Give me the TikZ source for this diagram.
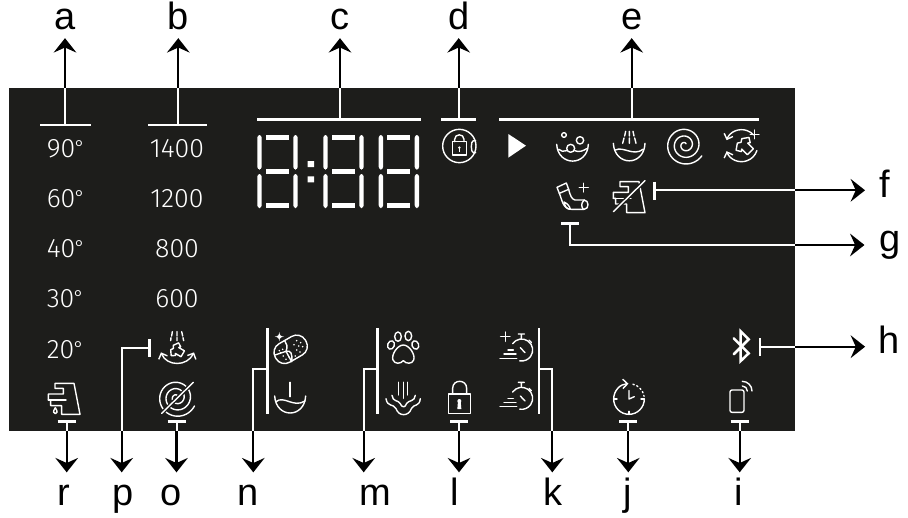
\documentclass[tikz,border=0pt]{standalone}
\usepackage{fontspec}
\setmainfont{Liberation Sans}
\newfontfamily\digfont{Fira Sans Light}
\usetikzlibrary{arrows.meta}
\definecolor{panel}{HTML}{1D1D1B}
\newcommand{\degsign}{\kern-.5pt{\fontsize{15}{15}\selectfont\raisebox{2pt}{°}}}
\tikzset{
  zoomed/.style 2 args={shift={(#1,#2)},x=.25pt,y=-.25pt},
  icon/.style={draw=white,line width=1.05pt,line cap=round,line join=round},
  chev/.tip={Straight Barb[length=3.5pt,width=7pt]},
  wline/.style={draw=white,line width=1.5pt},
  bline/.style={draw=black,line width=1.6pt,-{Stealth[length=10.8pt,width=17pt,inset=3.8pt]}},
  tbar/.style={draw=white,line width=1.9pt},
  brace/.style={draw=white,line width=1.8pt},
  lbl/.style={text=black,font=\fontsize{28.5}{28.5}\selectfont,inner sep=0pt,anchor=base,text height=20.25pt,text depth=6pt},
  toplbl/.style={lbl,outer ysep=.5pt},
  botlbl/.style={lbl,outer ysep=4.25pt},
  sidelbl/.style={lbl,outer xsep=#1},
  dig/.style={text=white,font=\digfont\fontsize{20}{20}\selectfont,inner sep=0pt},
  segment/.style={fill=white,draw=none},
  sevenseg/.pic={
    \fill[segment] (8.7,0) rectangle (31.7,5);
    \fill[segment] (8.7,34) rectangle (31.7,38.7);
    \fill[segment] (8.7,68) rectangle (31.7,73);
    \fill[segment,rounded corners=2pt] (0,34.5) -- (0,0) -- (4.4,0) -- (4.4,34.5) -- cycle;
    \fill[segment,rounded corners=2pt] (0,39) -- (0,73) -- (4.4,73) -- (4.4,39) -- cycle;
    \fill[segment,rounded corners=2pt] (36,34.5) -- (36,0) -- (40.4,0) -- (40.4,34.5) -- cycle;
    \fill[segment,rounded corners=2pt] (36,39) -- (36,73) -- (40.4,73) -- (40.4,39) -- cycle;
  }
}
\newcommand{\TapShape}{%
  \draw[icon] (75,190) -- (132,190) -- (150,283) -- (95,283) -- (95,257) -- (62,257) -- (62,240) -- (55,240) -- (55,222) -- (100,222) -- (100,205) -- (75,205) -- cycle;
  \draw[icon] (55,240) -- (108,240);
}
\newcommand{\ShirtShape}{%
  \draw[icon] (-9,-22) -- (0,-16) -- (9,-22) -- (26,-10) -- (18,3) -- (12,-1) -- (12,22) -- (-12,22) -- (-12,-1) -- (-18,3) -- (-26,-10) -- cycle;
}
\newcommand{\TimerShape}{%
  \draw[icon] (95,90) ++(215:33) arc[start angle=215,end angle=460,radius=33];
  \draw[icon] (85,42) -- (103,42) (94,42) -- (94,56) (117,60) -- (124,67);
  \draw[icon] (91,83) -- (105,98);
  \draw[icon] (30,115) -- (80,115) (42,102) -- (78,102) (54,90) -- (70,90);
}
\newcommand{\upconn}[5]{% name, stem x, bar x1, bar x2, bar y
  \coordinate (#1S) at (#2,#5);
  \coordinate (#1P) at (#2,88);
  \coordinate (#1L) at (#3,#5);
  \coordinate (#1R) at (#4,#5);
  \draw[tbar] (#1L) -- (#1R);
  \draw[wline] (#1S) -- (#1P);
  \draw[bline] (#1P) -- (#1P |- #1.south);
}
\newcommand{\downconn}[4]{% name, stem x, half width, bar y
  \coordinate (#1S) at (#2,#4);
  \coordinate (#1P) at (#2,431);
  \coordinate (#1L) at (#2-#3,#4);
  \coordinate (#1R) at (#2+#3,#4);
  \draw[tbar] (#1L) -- (#1R);
  \draw[wline] (#1S) -- (#1P);
  \draw[bline] (#1P) -- (#1P |- #1.north);
}
\newcommand{\elbow}[6]{% name, bar x, bar y1, bar y2, branch y, drop x
  \coordinate (#1T) at (#2,#3);
  \coordinate (#1U) at (#2,#4);
  \coordinate (#1B) at (#2,#5);
  \coordinate (#1C) at (#6,#5);
  \coordinate (#1P) at (#6,431);
  \draw[brace] (#1T) -- (#1U);
  \draw[wline] (#1B) -- (#1C) -- (#1P);
  \draw[bline] (#1P) -- (#1P |- #1.north);
}
\begin{document}
\begin{tikzpicture}[x=.75pt,y=-.75pt]
\useasboundingbox (0,0) rectangle (908,518);
\fill[panel] (9,88) rectangle (795,431);

% labels
\node[toplbl] (a) at (65.3,29.5) {a};
\node[toplbl] (b) at (178,29.5) {b};
\node[toplbl] (c) at (340,29.5) {c};
\node[toplbl] (d) at (459,29.5) {d};
\node[toplbl] (e) at (632,29.5) {e};
\node[sidelbl=11pt] (f) at (885,197.7) {f};
\node[sidelbl=11pt] (g) at (889.7,251) {g};
\node[sidelbl=10pt] (h) at (889,353.3) {h};
\node[botlbl] (r) at (64,505) {r};
\node[botlbl] (p) at (123.3,505) {p};
\node[botlbl] (o) at (171,505) {o};
\node[botlbl] (n) at (248.3,505) {n};
\node[botlbl] (m) at (375,505) {m};
\node[botlbl] (l) at (455,505) {l};
\node[botlbl] (k) at (553,505) {k};
\node[botlbl] (j) at (628,505) {j};
\node[botlbl] (i) at (739,505) {i};

% temperature and speed values
\node[dig,anchor=base west] (t90) at (46.5,157) {90\degsign};
\node[dig,anchor=base west] (t60) at (46.5,207) {60\degsign};
\node[dig,anchor=base west] (t40) at (46.5,257.5) {40\degsign};
\node[dig,anchor=base west] (t30) at (46.5,307.5) {30\degsign};
\node[dig,anchor=base west] (t20) at (46.5,358) {20\degsign};
\node[dig,anchor=base] (s1400) at (177,157) {1400};
\node[dig,anchor=base] (s1200) at (177,207) {1200};
\node[dig,anchor=base] (s800) at (177,257) {800};
\node[dig,anchor=base] (s600) at (177,307.5) {600};

% seven segment display
\pic at (257.3,135) {sevenseg};
\pic at (323.3,135) {sevenseg};
\pic at (378.7,135) {sevenseg};
\fill[white] (307.7,161) rectangle (314,167) (307.7,176.3) rectangle (314,182.3);

% connectors at the top
\upconn{a}{65}{40}{91}{125}
\upconn{b}{178.3}{148.3}{207}{125}
\upconn{c}{340}{257.3}{421.3}{119.3}
\upconn{d}{458.7}{441}{475.7}{119.3}
\upconn{e}{631.7}{499}{759.3}{119.3}

% connectors at the bottom
\downconn{r}{66.7}{9}{421.7}
\downconn{o}{176.5}{9}{421.7}
\downconn{l}{459}{9}{421.7}
\downconn{j}{628.3}{9}{421.7}
\downconn{i}{739.7}{9}{421.7}
\elbow{n}{267.3}{328}{414}{369.3}{253.3}
\elbow{m}{377.3}{328}{414}{369.3}{363.7}
\elbow{k}{539}{328}{414}{369.3}{552.3}

% p
\coordinate (pA) at (149.3,339);
\coordinate (pB) at (149.3,356.7);
\coordinate (pM) at (149.3,348.3);
\coordinate (pC) at (121.7,348.3);
\coordinate (pP) at (121.7,431);
\draw[tbar] (pA) -- (pB);
\draw[wline] (pM) -- (pC) -- (pP);
\draw[bline] (pP) -- (pP |- p.north);

% f
\coordinate (fA) at (654.3,181.7);
\coordinate (fB) at (654.3,200);
\coordinate (fM) at (654.3,190.3);
\coordinate (fP) at (795,190.3);
\draw[tbar] (fA) -- (fB);
\draw[wline] (fM) -- (fP);
\draw[bline] (fP) -- (fP -| f.west);

% g
\coordinate (gA) at (561,223.3);
\coordinate (gB) at (579,223.3);
\coordinate (gM) at (570.3,223.3);
\coordinate (gC) at (570.3,245);
\coordinate (gP) at (795,245);
\draw[tbar] (gA) -- (gB);
\draw[wline] (gM) -- (gC) -- (gP);
\draw[bline] (gP) -- (gP -| g.west);

% h
\coordinate (hA) at (760,338.3);
\coordinate (hB) at (760,355.7);
\coordinate (hM) at (760,346.7);
\coordinate (hP) at (795,346.7);
\draw[tbar] (hA) -- (hB);
\draw[wline] (hM) -- (hP);
\draw[bline] (hP) -- (hP -| h.west);

% lock with camera (d)
\begin{scope}[zoomed={240}{100}]
  \draw[icon] (658,138) circle[radius=50];
  \draw[icon] (638,125) rectangle (680,165);
  \draw[icon] (644,125) -- (644,118) .. controls (644,100) and (672,100) .. (672,118) -- (672,125);
  \fill[white] (658,143) circle[radius=4];
  \fill[white] (656,143) rectangle (660,155);
  \draw[icon] (707,122) -- (700,122) .. controls (692,122) and (692,158) .. (700,158) -- (707,158);
\end{scope}

% icons of the upper right
\begin{scope}[zoomed={490}{110}]
  \fill[white] (55,72) -- (108,107) -- (55,143) -- cycle;
  % soak
  \draw[icon] (200,103) .. controls (204,170) and (292,170) .. (295,103);
  \draw[icon] (222,75) circle[radius=7] (270,91) circle[radius=11] (242,115) circle[radius=12];
  \draw[icon] (206,118) .. controls (212,124) and (222,126) .. (230,122) (254,122) .. controls (268,128) and (280,122) .. (290,116);
  % prewash
  \draw[icon] (370,100) .. controls (374,170) and (462,170) .. (465,100);
  \draw[icon] (376,120) .. controls (400,108) and (430,140) .. (459,118);
  \draw[icon] (398,100) -- (402,84) (404,78) -- (407,64) (418,100) -- (418,84) (418,78) -- (418,64) (438,100) -- (434,84) (432,78) -- (429,64);
  % spin
  \draw[icon] plot[domain=33:1030,samples=120,smooth] ({585+(60-(\x-33)/360*20)*cos(\x)},{105+(60-(\x-33)/360*20)*sin(\x)});
  % rinse plus
  \draw[icon,chev-] (755,107) ++(200:48) arc[start angle=200,end angle=318,radius=48];
  \draw[icon,chev-] (755,107) ++(160:48) arc[start angle=160,end angle=18,radius=48];
  \draw[icon] (781,73) -- (807,73) (794,60) -- (794,86);
  \begin{scope}[shift={(765,109)},rotate=45,scale=1.05]\ShirtShape\end{scope}
  % sock
  \draw[icon] (201,232) -- (229,219) -- (236,238) -- (208,250) -- cycle;
  \draw[icon] (208,250) .. controls (216,268) and (218,298) .. (245,298) -- (282,298) .. controls (298,298) and (298,270) .. (282,270) -- (255,270) .. controls (245,268) and (240,255) .. (236,238);
  \draw[icon] (283,270) .. controls (272,280) and (274,290) .. (280,298);
  \draw[icon] (222,276) .. controls (232,280) and (240,290) .. (241,298) .. controls (230,298) and (224,288) .. (222,276);
  \draw[icon] (268,233) -- (295,233) (281,220) -- (281,246);
  % tap struck through
  \begin{scope}[shift={(315,25)}]\TapShape\end{scope}
  \draw[panel,line width=3pt] (370,305) -- (465,212);
  \draw[icon] (370,305) -- (465,212);
\end{scope}

% bottom left icons
\begin{scope}[zoomed={30}{320}]
  \TapShape
  \draw[icon] (76,263) .. controls (68,275) and (70,281) .. (76,281) .. controls (82,281) and (84,275) .. (76,263);
  % prewash turn
  \draw[icon] (427,35) -- (425,48) (423,53) -- (422,62) (441,35) -- (441,48) (441,53) -- (441,62) (455,35) -- (458,48) (459,53) -- (461,62);
  \draw[icon,chev-chev] (393,97) .. controls (410,140) and (472,140) .. (492,97);
  \begin{scope}[shift={(442,92)},rotate=60,scale=.85]\ShirtShape\end{scope}
  % spiral struck through
  \draw[icon] plot[domain=25:1000,samples=110,smooth] ({440+(59-(\x-25)/360*19)*cos(\x)},{233+(59-(\x-25)/360*19)*sin(\x)});
  \draw[panel,line width=3pt] (395,280) -- (490,187);
  \draw[icon] (395,280) -- (490,187);
\end{scope}

% middle bottom icons
\begin{scope}[zoomed={250}{320}]
  % capsule
  \draw[icon,rounded corners=7.5pt,rotate around={30:(122,88)}] (70,56) rectangle (174,120);
  \draw[icon] (75,105) -- (108,94) -- (125,125) (108,94) .. controls (114,80) and (110,70) .. (104,62) (108,94) .. controls (122,90) and (128,100) .. (125,125);
  \foreach \dx/\dy in {140/62,152/68,146/78,158/80,132/74,140/90,150/96,136/108,118/112,108/118,100/108,92/98,98/88,88/92}{
    \fill[white] (\dx,\dy) circle[radius=2.6];
  }
  \fill[white] (88,36) .. controls (89,46) and (92,49) .. (102,50) .. controls (92,51) and (89,54) .. (88,64) .. controls (87,54) and (84,51) .. (74,50) .. controls (84,49) and (87,46) .. (88,36) -- cycle;
  % bowl and drop line
  \draw[icon] (120,187) -- (120,230);
  \draw[icon] (74,228) .. controls (78,296) and (163,296) .. (167,228);
  \draw[icon] (78,245) .. controls (102,225) and (130,265) .. (165,243);
  % paw
  \draw[icon,rotate around={-20:(423,75)}] (423,75) ellipse[x radius=10,y radius=13];
  \draw[icon] (444,50) ellipse[x radius=10,y radius=14];
  \draw[icon] (475,48) ellipse[x radius=10,y radius=14];
  \draw[icon,rotate around={20:(496,75)}] (496,75) ellipse[x radius=10,y radius=13];
  \draw[icon] (460,75) .. controls (478,75) and (497,105) .. (491,120) .. controls (486,133) and (468,132) .. (460,122) .. controls (452,132) and (434,133) .. (429,120) .. controls (423,105) and (442,75) .. (460,75) -- cycle;
  % wave basin
  \draw[icon] (446,187) -- (446,225) (460,187) -- (460,235) (473,187) -- (473,225);
  \draw[icon] (426,226) .. controls (428,246) and (445,240) .. (450,250) .. controls (456,264) and (466,264) .. (470,250) .. controls (476,240) and (494,246) .. (496,226);
  \draw[icon] (408,236) .. controls (412,262) and (430,250) .. (438,266) .. controls (446,290) and (476,290) .. (484,266) .. controls (492,250) and (508,262) .. (511,236);
  % lock
  \draw[icon] (596,222) rectangle (662,280);
  \draw[icon] (608,222) -- (608,205) .. controls (608,177) and (650,177) .. (650,205) -- (650,222);
  \fill[white] (628,243) circle[radius=6];
  \fill[white] (624,243) -- (632,243) -- (634,267) -- (622,267) -- cycle;
\end{scope}

% timers, delay, remote, bluetooth
\begin{scope}[zoomed={490}{320}]
  \TimerShape
  \draw[icon] (32,50) -- (60,50) (46,36) -- (46,64);
  \begin{scope}[shift={(0,145)}]\TimerShape\end{scope}
  % delay clock
  \draw[icon,-chev] (417,237) ++(0:46) arc[start angle=0,end angle=268,radius=46];
  \draw[icon,dotted] (417,237) ++(285:46) arc[start angle=285,end angle=350,radius=46];
  \draw[icon] (417,212) -- (417,237) -- (433,230);
  \draw[icon] (417,274) -- (417,283) (371,237) -- (381,237) (453,237) -- (463,237);
  % phone
  \draw[icon,rounded corners=1.5pt] (720,210) rectangle (762,277);
  \draw[icon] (757,213) ++(270:15) arc[start angle=270,end angle=360,radius=15];
  \draw[icon] (757,213) ++(270:29) arc[start angle=270,end angle=360,radius=29];
  % bluetooth
  \draw[icon,line width=1.9pt,line join=miter] (731,55) -- (776,100) -- (752,123) -- (752,34) -- (776,58) -- (731,103);
\end{scope}
\end{tikzpicture}
\end{document}
